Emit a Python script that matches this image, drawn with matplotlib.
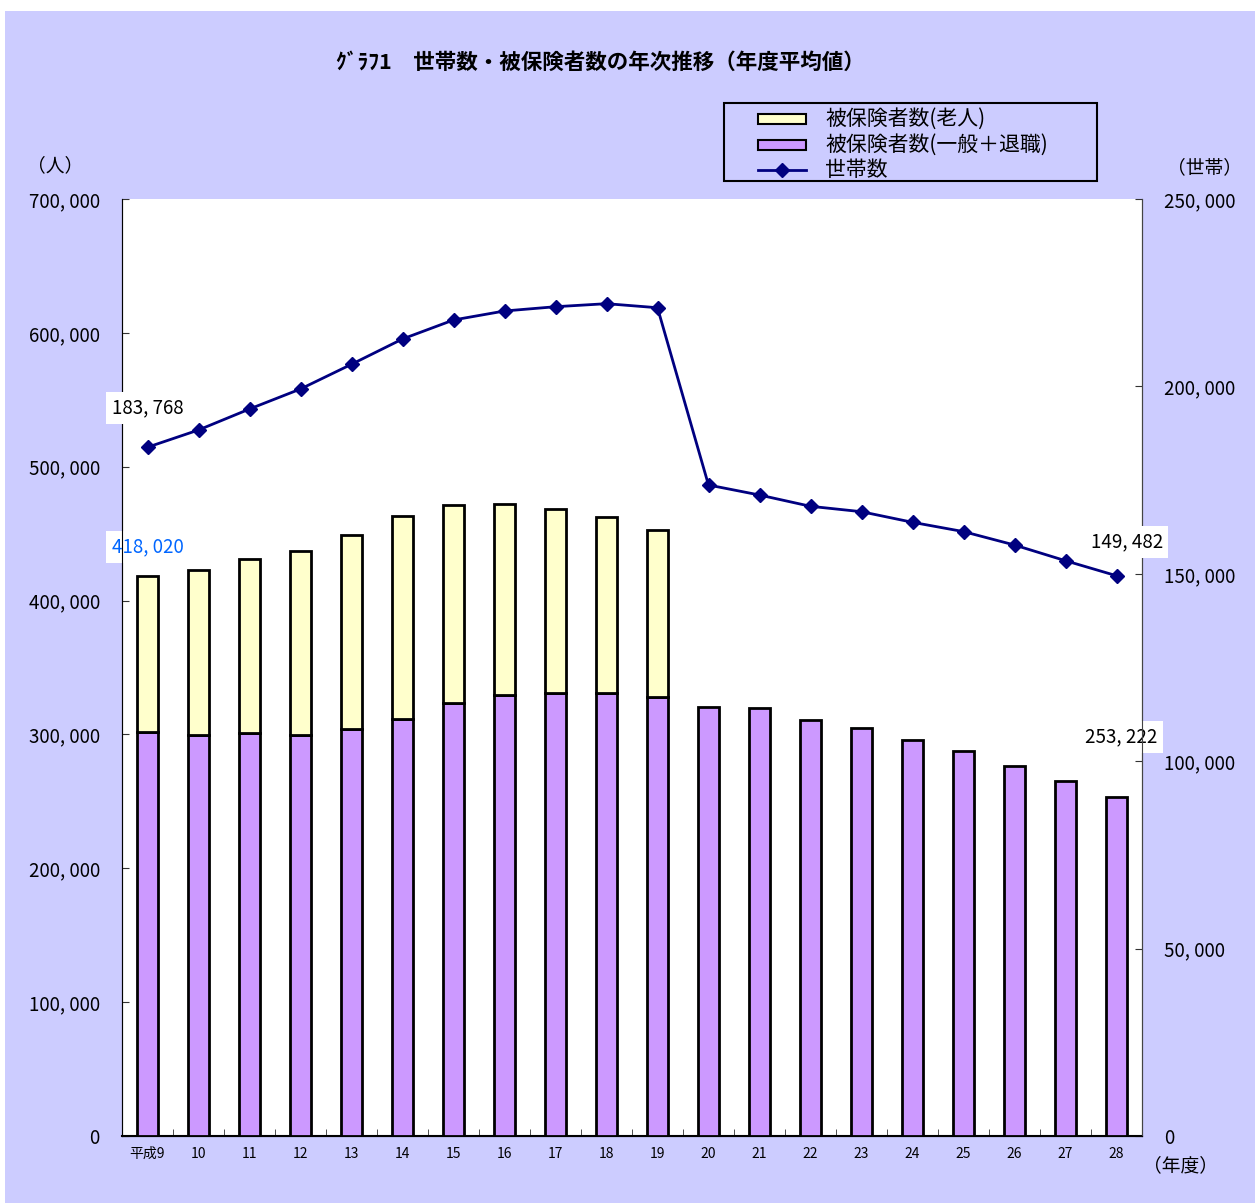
import matplotlib
matplotlib.use('Agg')
import matplotlib.pyplot as plt
import numpy as np
from matplotlib.patches import Rectangle
from matplotlib.lines import Line2D

plt.rcParams['font.family'] = ['Noto Sans CJK JP', 'DejaVu Sans']

# データ
years = ['平成9', '10', '11', '12', '13', '14', '15', '16', '17', '18',
         '19', '20', '21', '22', '23', '24', '25', '26', '27', '28']
ippan = [301600, 299800, 300800, 299800, 303800, 311800, 323300, 329200, 331200, 331200,
         327700, 320300, 319700, 311000, 304600, 295600, 287400, 276700, 265000, 253222]
total = [418020, 422800, 430800, 437300, 448800, 463200, 471200, 472200, 468400, 462700,
         453000]
rojin = [t - g for t, g in zip(total, ippan[:len(total)])]
setai = [183768, 188370, 193970, 199310, 205900, 212650, 217720, 220120, 221260, 222070,
         220990, 173690, 171020, 168010, 166570, 163740, 161260, 157680, 153490, 149482]
legend_labels = ['被保険者数(老人)', '被保険者数(一般＋退職)', '世帯数']

bg = '#CCCCFF'
c_rojin = '#FFFFCC'
c_ippan = '#CC99FF'
c_line = '#000080'

W, H = 1255, 1203
fig = plt.figure(figsize=(W / 100, H / 100), dpi=100)
fig.patch.set_facecolor('white')


def fx(p):
    return p / W


def fy(p):
    return 1 - p / H


fig.patches.append(Rectangle((fx(5), 0), 1, fy(11), transform=fig.transFigure,
                             facecolor=bg, edgecolor='none', zorder=-10))

ax = fig.add_axes([fx(122), fy(1136), 1020 / W, 937 / H])
ax.set_facecolor('white')
x = np.arange(len(years))
w = 0.43
ax.bar(x, ippan, w, color=c_ippan, edgecolor='black', linewidth=2, zorder=3)
ax.bar(x[:len(total)], rojin, w, bottom=ippan[:len(total)],
       color=c_rojin, edgecolor='black', linewidth=2, zorder=3)
ax.set_xlim(-0.5, len(years) - 0.5)
ax.set_ylim(0, 700000)
ax.set_yticks(np.arange(0, 700001, 100000))
ax.set_yticklabels(['0' if v == 0 else f'{v // 1000}, 000' for v in range(0, 700001, 100000)],
                   fontsize=13.5)
ax.set_xticks(x)
ax.set_xticklabels(years, fontsize=10)
ax.set_xticks(np.arange(-0.5, len(years), 1), minor=True)
ax.tick_params(axis='x', which='major', length=0, pad=8)
ax.tick_params(axis='x', which='minor', direction='in', length=5, color='#333333')
ax.tick_params(axis='y', direction='in', length=5, color='#333333', pad=16)
ax.spines['top'].set_visible(False)
ax.spines['left'].set_color('#444444')
ax.spines['right'].set_color('#444444')
ax.spines['bottom'].set_color('black')
ax.spines['bottom'].set_linewidth(1.5)

ax2 = ax.twinx()
ax2.plot(x, setai, color=c_line, linewidth=2, marker='D', markersize=7, zorder=5)
ax2.set_ylim(0, 250000)
ax2.set_yticks(np.arange(0, 250001, 50000))
ax2.set_yticklabels(['0' if v == 0 else f'{v // 1000}, 000' for v in range(0, 250001, 50000)],
                    fontsize=13.5)
ax2.tick_params(axis='y', direction='in', length=5, color='#333333', pad=16)
ax2.spines['top'].set_visible(False)
ax2.spines['right'].set_color('#444444')

# データラベル
box = dict(facecolor='white', edgecolor='none', pad=4)
ax2.text(x[0], setai[0] + 10500, '183, 768', ha='center', va='center', fontsize=13.5, bbox=box)
ax2.text(x[-1] + 0.2, setai[-1] + 9000, '149, 482', ha='center', va='center', fontsize=13.5, bbox=box)
ax.text(x[0], total[0] + 22000, '418, 020', ha='center', va='center', fontsize=13.5,
        color='#0066FF', bbox=box)
ax.text(x[-1] + 0.1, ippan[-1] + 45000, '253, 222', ha='center', va='center', fontsize=13.5, bbox=box)

fig.text(fx(55), fy(166), '（人）', ha='center', va='center', fontsize=13.5)
fig.text(fx(1205), fy(168), '（世帯）', ha='center', va='center', fontsize=13.5)
fig.text(fx(1180), fy(1166), '（年度）', ha='center', va='center', fontsize=13.5)
fig.text(fx(600), fy(62), 'ｸﾞﾗﾌ1　世帯数・被保険者数の年次推移（年度平均値）',
         ha='center', va='center', fontsize=15.5, fontweight='bold')

# 凡例（枠と見本を手で配置）
tf = fig.transFigure
fig.patches.append(Rectangle((fx(724), fy(181)), 373 / W, 78 / H, transform=tf,
                             facecolor=bg, edgecolor='black', linewidth=1.5, zorder=5))
rows = [119, 145, 170]
for yy, col in zip(rows[:2], [c_rojin, c_ippan]):
    fig.patches.append(Rectangle((fx(758), fy(yy + 5)), 48 / W, 10 / H, transform=tf,
                                 facecolor=col, edgecolor='black', linewidth=1.5, zorder=6))
fig.lines.append(Line2D([fx(758), fx(806)], [fy(rows[2]), fy(rows[2])], transform=tf,
                        color=c_line, linewidth=2, zorder=6))
fig.lines.append(Line2D([fx(782)], [fy(rows[2])], transform=tf, color=c_line,
                        marker='D', markersize=7, zorder=6))
for yy, lab in zip(rows, legend_labels):
    fig.text(fx(825), fy(yy), lab, ha='left', va='center', fontsize=15, zorder=7)

fig.savefig('out.png', dpi=100, facecolor=fig.get_facecolor())
